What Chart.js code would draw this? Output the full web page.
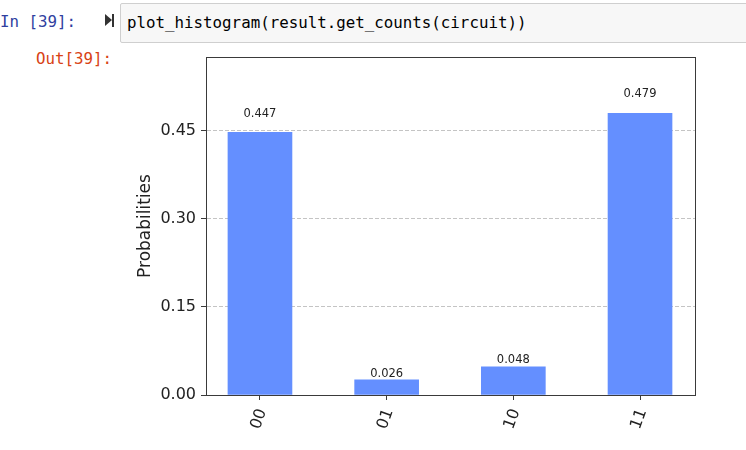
<!DOCTYPE html>
<html>
<head>
<meta charset="utf-8">
<script src="https://cdn.jsdelivr.net/npm/chart.js@4.4.1/dist/chart.umd.min.js"></script>
<style>
  body { margin: 0; width: 746px; height: 450px; background: #fff; position: relative; overflow: hidden;
         font-family: "DejaVu Sans Mono", monospace; }
  .prompt { position: absolute; font-size: 15.8px; line-height: 20px; white-space: pre; }
  #inp  { left: 0px;  top: 12px; color: #303f9f; }
  #outp { left: 36px; top: 49px; color: #d84315; }
  #run  { position: absolute; left: 105px; top: 14px; width: 0; height: 0;
          border-left: 7px solid #333; border-top: 6.5px solid transparent; border-bottom: 6.5px solid transparent; }
  #runbar { position: absolute; left: 112px; top: 14px; width: 2px; height: 13px; background: #333; }
  #cell { position: absolute; left: 120px; top: 3px; width: 640px; height: 38px;
          background: #f7f7f7; border: 1px solid #cfcfcf; border-radius: 2px; }
  #code { position: absolute; left: 6px; top: 9px; font-size: 15.8px; line-height: 20px; color: #000; white-space: pre; }
  #wrap { position: absolute; left: 120px; top: 50px; width: 590px; height: 400px; }
</style>
</head>
<body>
<div class="prompt" id="inp">In [39]:</div>
<div id="run"></div><div id="runbar"></div>
<div id="cell"><div id="code">plot_histogram(result.get_counts(circuit))</div></div>
<div class="prompt" id="outp">Out[39]:</div>
<div id="wrap"><canvas id="chart-hist"></canvas></div>

<script>
// measured outcomes and their probabilities
const states = ["00", "01", "10", "11"];
const probs  = [0.447, 0.026, 0.048, 0.479];
const yTicks = [0.00, 0.15, 0.30, 0.45];

const BAR_BLUE = "#648fff";
const INK = "#222";
const SPINE = "#3a3a3a";

// matplotlib-ish frame, bar value labels and rotated state labels
const histDecor = {
  id: "histDecor",
  afterDatasetsDraw(chart) {
    const { ctx, chartArea: a, scales: { x, y } } = chart;
    ctx.save();
    ctx.strokeStyle = SPINE;
    ctx.lineWidth = 1;
    ctx.strokeRect(Math.round(a.left) + 0.5, Math.round(a.top) + 0.5,
                   Math.round(a.right - a.left), Math.round(a.bottom - a.top));

    ctx.fillStyle = INK;
    ctx.font = "11.5px 'DejaVu Sans'";
    ctx.textAlign = "center";
    ctx.textBaseline = "alphabetic";
    probs.forEach((p, i) => {
      ctx.fillText(p.toFixed(3), x.getPixelForValue(i), y.getPixelForValue(p * 1.05) - 2);
    });

    ctx.font = "16px 'DejaVu Sans'";
    ctx.textBaseline = "middle";
    states.forEach((s, i) => {
      ctx.save();
      ctx.translate(x.getPixelForValue(i) - 1, a.bottom + 24);
      ctx.rotate(-70 * Math.PI / 180);
      ctx.fillText(s, 0, 0);
      ctx.restore();
    });
    ctx.restore();
  },
};

new Chart(document.getElementById("chart-hist"), {
  type: "bar",
  data: {
    datasets: [{
      data: probs.map((p, i) => ({ x: i, y: p })),
      backgroundColor: BAR_BLUE,
      borderWidth: 0,
      barThickness: 64,
    }],
  },
  options: {
    responsive: true,
    maintainAspectRatio: false,
    animation: false,
    layout: { padding: { left: 11, right: 15, top: 7, bottom: 0 } },
    plugins: { legend: { display: false }, tooltip: { enabled: false } },
    scales: {
      x: {
        type: "linear",
        offset: false,
        min: -0.426, max: 3.434,
        afterBuildTicks: s => { s.ticks = states.map((_, i) => ({ value: i })); },
        afterFit: s => { s.height = 55; s.paddingLeft = 0; s.paddingRight = 0; },
        ticks: { display: false },
        grid: { offset: false, drawOnChartArea: false, tickLength: 5, tickColor: SPINE },
        border: { color: SPINE },
      },
      y: {
        min: 0, max: 0.575,
        afterBuildTicks: s => { s.ticks = yTicks.map(v => ({ value: v })); },
        afterFit: s => { s.width = 75; s.paddingTop = 0; s.paddingBottom = 0; },
        ticks: { color: INK, padding: 5, font: { family: "DejaVu Sans", size: 16 },
                 callback: v => v.toFixed(2) },
        grid: { color: "#c4c4c4", tickLength: 5, tickColor: SPINE },
        border: { color: SPINE, dash: [4, 2] },
        title: { display: true, text: "Probabilities", color: INK,
                 font: { family: "DejaVu Sans", size: 17 } },
      },
    },
  },
  plugins: [histDecor],
});
</script>
</body>
</html>
